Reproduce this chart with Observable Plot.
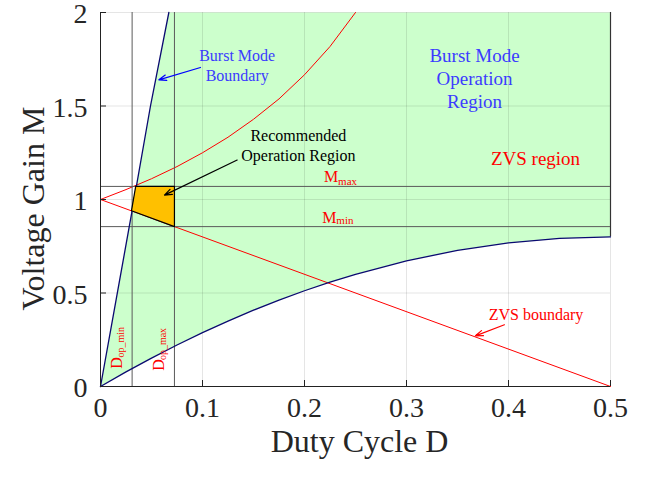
<!DOCTYPE html>
<html>
<head>
<meta charset="utf-8">
<script src="https://cdn.jsdelivr.net/npm/d3@7"></script>
<script src="https://cdn.jsdelivr.net/npm/@observablehq/plot@0.6"></script>
<style>
  html, body { margin: 0; padding: 0; background: #fff; }
</style>
</head>
<body>
<div id="chart"></div>
<script>
// ---- data ----
const xTicks = [0, 0.1, 0.2, 0.3, 0.4, 0.5];
const xTickLabels = ["0", "0.1", "0.2", "0.3", "0.4", "0.5"];
const yTicks = [0, 0.5, 1, 1.5, 2];
const yTickLabels = ["0", "0.5", "1", "1.5", "2"];

// burst mode boundary (navy)
const burstD = [0, 0.0155, 0.031, 0.049, 0.067];
const burstM = [0, 0.47, 0.94, 1.5, 2];

// lower boundary of burst-mode region (navy)
const lowerD = [0, 0.025, 0.05, 0.075, 0.1, 0.125, 0.15, 0.175, 0.2, 0.225, 0.25, 0.3, 0.35, 0.4, 0.45, 0.5];
const lowerM = [0, 0.078, 0.152, 0.222, 0.288, 0.35, 0.408, 0.462, 0.512, 0.558, 0.60, 0.672, 0.728, 0.768, 0.792, 0.80];

// upper ZVS curve (red)
const zvsUpD = [0, 0.025, 0.05, 0.075, 0.1, 0.125, 0.15, 0.175, 0.2, 0.225, 0.25];
const zvsUpM = [1, 1.053, 1.111, 1.176, 1.25, 1.333, 1.429, 1.538, 1.667, 1.818, 2];

// ZVS boundary (red straight line)
const zvsBoundD = [0, 0.5];
const zvsBoundM = [1, 0];

// operating limits
const Mmax = 1.07;
const Mmin = 0.855;
const DopMin = 0.031;
const DopMax = 0.0725;

// recommended operation region (orange)
const opD = [0.0304, 0.0345, 0.0725, 0.0725, 0.0304];
const opM = [0.94, 1.07, 1.07, 0.855, 0.94];

// ---- tables built from the arrays ----
const pts = (xs, ys) => xs.map((x, i) => ({x, y: ys[i]}));
const burst = pts(burstD, burstM);
const lower = pts(lowerD, lowerM);
const zvsUp = pts(zvsUpD, zvsUpM);
const zvsBound = pts(zvsBoundD, zvsBoundM);
const opRegion = pts(opD, opM);
const greenRegion = [...burst, {x: 0.5, y: 2}, ...lower.slice().reverse()];

const serif = "Liberation Serif, Times New Roman, serif";
const W = 652, H = 479, mL = 100, mR = 42, mT = 12, mB = 93;
const frameW = W - mL - mR, frameH = H - mT - mB;

const blue = "#3b3bff", red = "#ff0000", navy = "#0a0a70", guide = "#5a5a5a";

const chart = Plot.plot({
  width: W, height: H,
  marginLeft: mL, marginRight: mR, marginTop: mT, marginBottom: mB,
  x: {domain: [0, 0.5], axis: null},
  y: {domain: [0, 2], axis: null},
  style: {background: "#fff", fontFamily: serif, overflow: "visible"},
  marks: [
    // green burst-mode region
    Plot.line(greenRegion, {x: "x", y: "y", fill: "#ccffcc", stroke: "none"}),
    // grid
    Plot.ruleX(xTicks.slice(1), {x: d => d, stroke: "#000", strokeOpacity: 0.1}),
    Plot.ruleY(yTicks.slice(1), {y: d => d, stroke: "#000", strokeOpacity: 0.1}),
    // right edge of green region
    Plot.ruleX([0.5], {x: d => d, y1: 0.8, y2: 2, stroke: "#333", strokeWidth: 1.2}),
    // red curves
    Plot.line(zvsUp, {x: "x", y: "y", stroke: red, strokeWidth: 1}),
    Plot.line(zvsBound, {x: "x", y: "y", stroke: red, strokeWidth: 1}),
    // guide lines
    Plot.ruleY([Mmax, Mmin], {y: d => d, stroke: guide, strokeWidth: 1}),
    Plot.ruleX([DopMin, DopMax], {x: d => d, stroke: guide, strokeWidth: 1}),
    // navy boundaries
    Plot.line(burst, {x: "x", y: "y", stroke: navy, strokeWidth: 1.3}),
    Plot.line(lower, {x: "x", y: "y", stroke: navy, strokeWidth: 1.3}),
    // recommended region
    Plot.line(opRegion, {x: "x", y: "y", fill: "#ffc000", stroke: "#000", strokeWidth: 1.2}),
    // axes
    Plot.ruleX([0], {x: d => d, stroke: "#222", strokeWidth: 1}),
    Plot.ruleY([0], {y: d => d, stroke: "#222", strokeWidth: 1}),
    Plot.ruleX(xTicks, {x: d => d, insetTop: frameH - 6, stroke: "#222"}),
    Plot.ruleY(yTicks, {y: d => d, insetRight: frameW - 6, stroke: "#222"}),
    Plot.text(xTicks, {x: d => d, text: (d, i) => xTickLabels[i], frameAnchor: "bottom", textAnchor: "middle", dy: 30, fontSize: 28, fontFamily: serif, fill: "#262626"}),
    Plot.text(yTicks, {y: d => d, text: (d, i) => yTickLabels[i], frameAnchor: "left", textAnchor: "end", dx: -13, dy: 2, fontSize: 28, fontFamily: serif, fill: "#262626"}),
    Plot.text(["Duty Cycle D"], {frameAnchor: "bottom", textAnchor: "middle", dy: 65, dx: 4, fontSize: 32, fontFamily: serif, fill: "#262626"}),
    Plot.text(["Voltage Gain M"], {frameAnchor: "left", textAnchor: "middle", rotate: -90, dx: -67, dy: 9, fontSize: 32, fontFamily: serif, fill: "#262626"}),
    // annotations
    Plot.text(["Burst Mode\nBoundary"], {x: 0.134, y: 1.72, fontSize: 16, lineHeight: 1.25, fontFamily: serif, fill: blue}),
    Plot.arrow([{x1: 0.098, y1: 1.706, x2: 0.0572, y2: 1.64}], {x1: "x1", y1: "y1", x2: "x2", y2: "y2", stroke: "#0000ff", strokeWidth: 1.2, headLength: 10, headAngle: 40}),
    Plot.text(["Burst Mode\nOperation\nRegion"], {x: 0.3667, y: 1.65, fontSize: 19, lineHeight: 1.21, fontFamily: serif, fill: blue}),
    Plot.text(["Recommended\nOperation Region"], {x: 0.194, y: 1.292, fontSize: 16, lineHeight: 1.2, fontFamily: serif, fill: "#000"}),
    Plot.arrow([{x1: 0.134, y1: 1.211, x2: 0.0627, y2: 1.0235}], {x1: "x1", y1: "y1", x2: "x2", y2: "y2", stroke: "#000", strokeWidth: 1.2, headLength: 10, headAngle: 40}),
    Plot.text(["ZVS region"], {x: 0.4265, y: 1.218, fontSize: 19, fontFamily: serif, fill: red}),
    Plot.text(["ZVS boundary"], {x: 0.427, y: 0.383, fontSize: 16, fontFamily: serif, fill: red}),
    Plot.arrow([{x1: 0.396, y1: 0.33, x2: 0.3676, y2: 0.271}], {x1: "x1", y1: "y1", x2: "x2", y2: "y2", stroke: red, strokeWidth: 1.2, headLength: 10, headAngle: 40}),
    // M_max / M_min
    Plot.text(["M"], {x: 0.219, y: Mmax, dy: -9.1, textAnchor: "start", fontSize: 16, fontFamily: serif, fill: red}),
    Plot.text(["max"], {x: 0.219, y: Mmax, dx: 14.2, dy: -4.9, textAnchor: "start", fontSize: 11, fontFamily: serif, fill: red}),
    Plot.text(["M"], {x: 0.2173, y: Mmin, dy: -9.2, textAnchor: "start", fontSize: 16, fontFamily: serif, fill: red}),
    Plot.text(["min"], {x: 0.2173, y: Mmin, dx: 14.2, dy: -6, textAnchor: "start", fontSize: 11, fontFamily: serif, fill: red}),
    // D_op_min / D_op_max (rotated)
    Plot.text(["D"], {x: DopMin, y: 0, dx: -15, dy: -17.7, rotate: -90, textAnchor: "start", fontSize: 16, fontFamily: serif, fill: red}),
    Plot.text(["op_min"], {x: DopMin, y: 0, dx: -11, dy: -29, rotate: -90, textAnchor: "start", fontSize: 10, fontFamily: serif, fill: red}),
    Plot.text(["D"], {x: DopMax, y: 0, dx: -15.5, dy: -15.7, rotate: -90, textAnchor: "start", fontSize: 16, fontFamily: serif, fill: red}),
    Plot.text(["op_max"], {x: DopMax, y: 0, dx: -11.3, dy: -26.4, rotate: -90, textAnchor: "start", fontSize: 10, fontFamily: serif, fill: red})
  ]
});
document.getElementById("chart").appendChild(chart);
</script>
</body>
</html>
